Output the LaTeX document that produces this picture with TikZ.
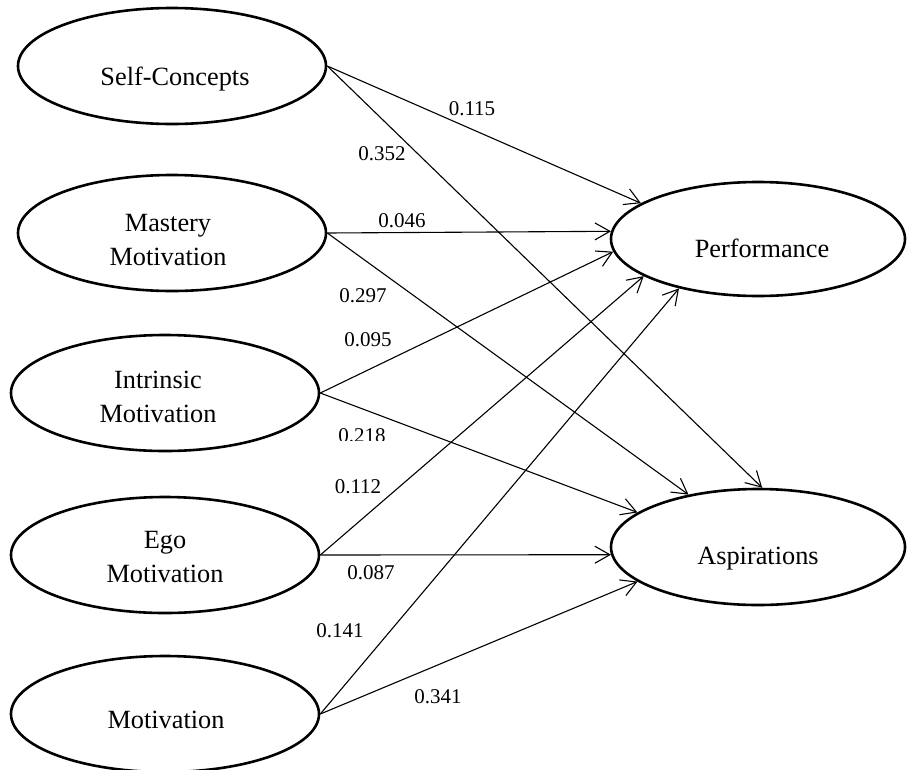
\documentclass[tikz,border=0pt]{standalone}
\usepackage{fontspec}
\setmainfont{Liberation Serif}
\usetikzlibrary{shapes.geometric,arrows.meta}
\begin{document}
\begin{tikzpicture}[x=1pt,y=-1pt,
  latent/.style={draw,ellipse,line width=2.6pt,inner sep=0pt,minimum width=308pt,minimum height=116pt},
  lbl/.style={font=\fontsize{26.3}{33.5}\selectfont,align=center,anchor=base,inner sep=0pt},
  coef/.style={font=\fontsize{21}{25}\selectfont,anchor=base,inner sep=0pt},
  effect/.style={line width=1.1pt,-{Straight Barb[length=15pt,width=17pt]}}]
\useasboundingbox (0,0) rectangle (907,769);
% latent variables
\node[latent] (sc) at (172,66) {};
\node[latent] (ma) at (172,233) {};
\node[latent] (im) at (165,393) {};
\node[latent] (em) at (165,555) {};
\node[latent] (mo) at (165,714) {};
\node[latent,minimum width=294pt,minimum height=114pt] (pe) at (758,239) {};
\node[latent,minimum width=294pt,minimum height=116pt] (as) at (758,547) {};
% texts
\node[lbl] (tsc) at (175,85) {Self-Concepts};
\node[lbl] (tma) at (168,265) {Mastery\\Motivation};
\node[lbl] (tim) at (158,422) {Intrinsic\\Motivation};
\node[lbl] (tem) at (165,582) {Ego\\Motivation};
\node[lbl] (tmo) at (166,728) {Motivation};
\node[lbl] (tpe) at (762,257) {Performance};
\node[lbl] (tas) at (758,564) {Aspirations};
% paths
\draw[effect] (sc.east) -- (pe.163.7);
\draw[effect] (sc.east) -- (as.86.2);
\draw[effect] (ma.east) -- (pe.177.7);
\draw[effect] (ma.east) -- (as.143.4);
\draw[effect] (im.east) -- (pe.185);
\draw[effect] (im.east) -- (as.164.2);
\draw[effect] (em.east) -- (pe.198.6);
\draw[effect] (em.east) -- (as.183.1);
\draw[effect] (mo.east) -- (pe.212.5);
\draw[effect] (mo.east) -- (as.196.6);
% coefficients
\node[coef] (c1) at (472,115) {0.115};
\node[coef] (c2) at (382,160) {0.352};
\node[coef] (c3) at (402,227) {0.046};
\node[coef] (c4) at (363,302) {0.297};
\node[coef] (c5) at (368,346) {0.095};
\begin{scope}
\clip (320,415) rectangle (400,440);
\node[coef] (c6) at (362,442) {0.218};
\end{scope}
\node[coef] (c7) at (358,493) {0.112};
\node[coef] (c8) at (371,579) {0.087};
\node[coef] (c9) at (340,637) {0.141};
\node[coef] (c10) at (438,703) {0.341};
\end{tikzpicture}
\end{document}
